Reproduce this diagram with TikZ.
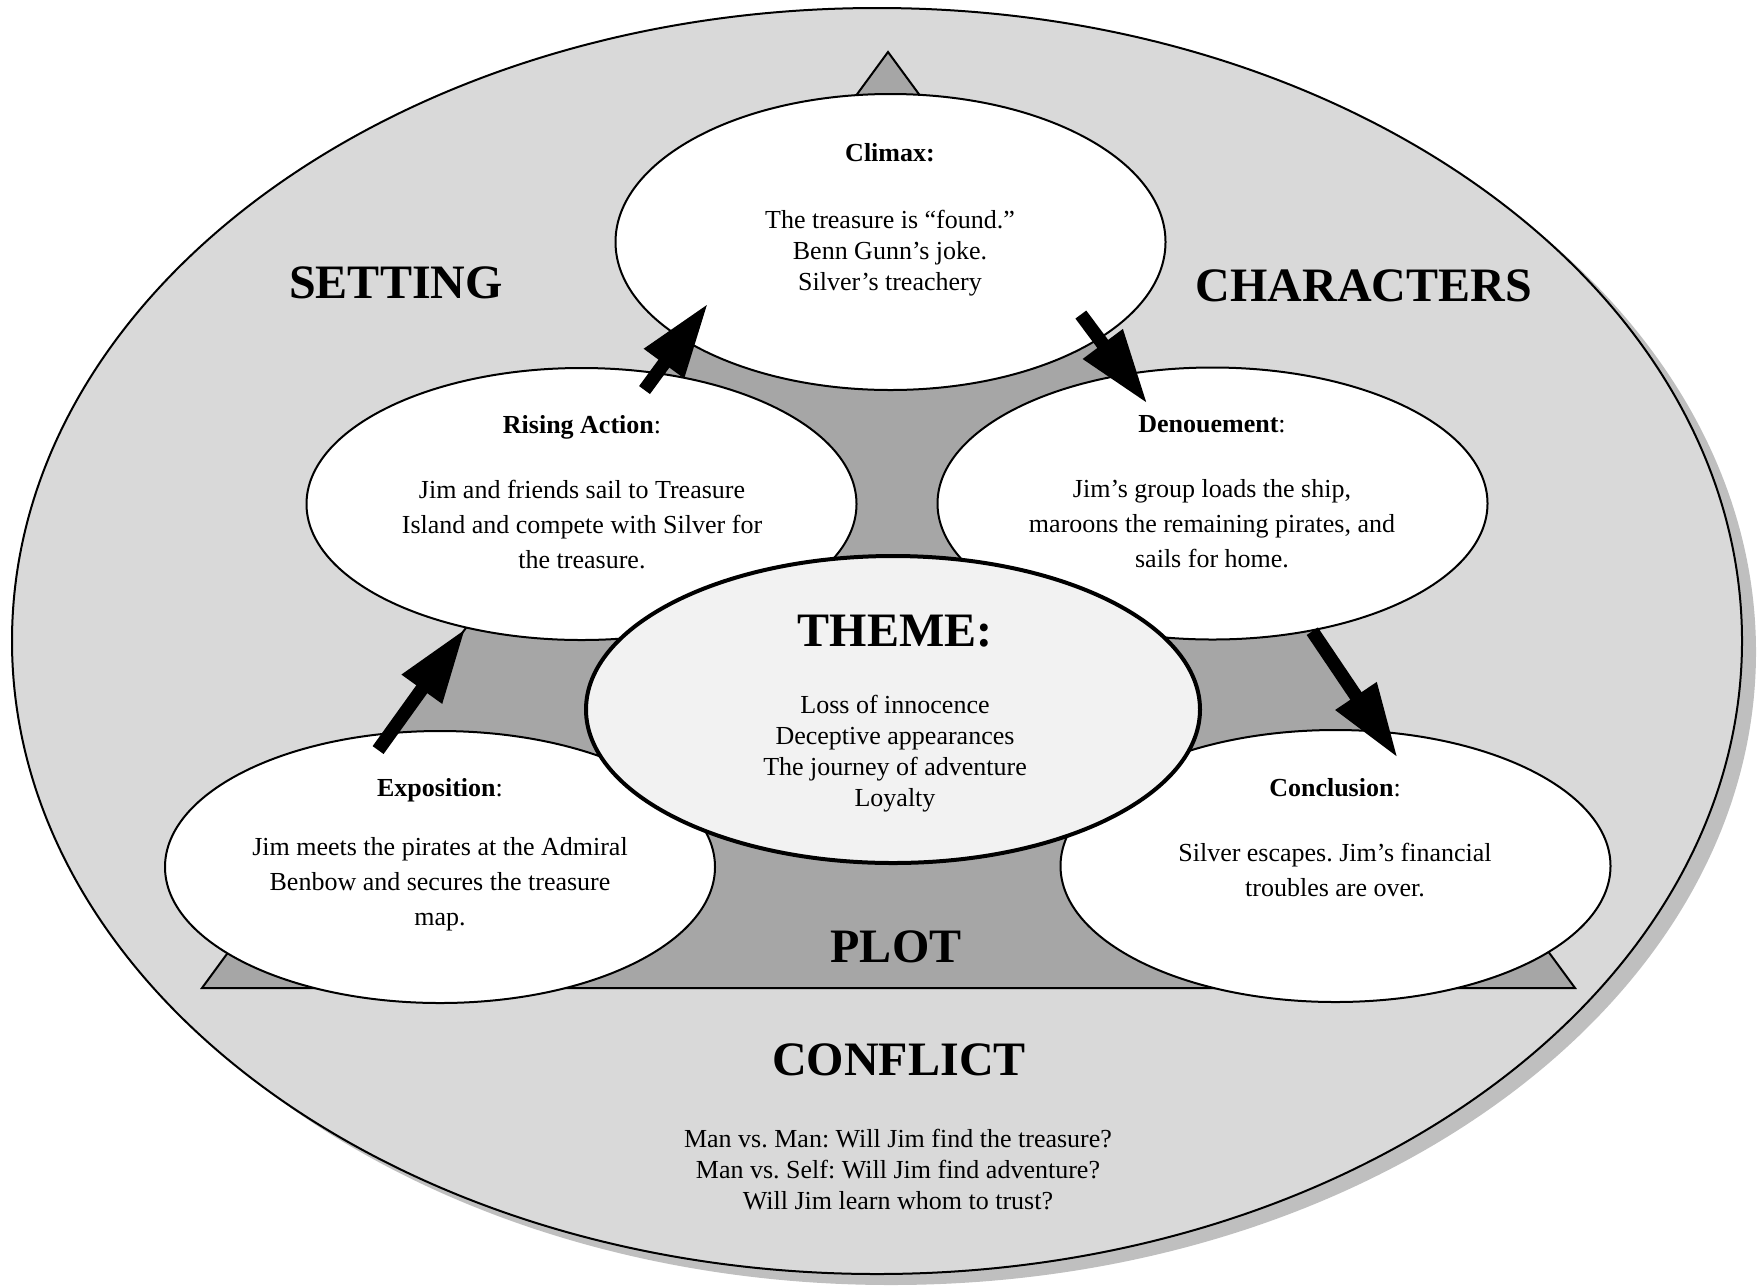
\documentclass[tikz,border=0pt]{standalone}
\usepackage{fontspec}
\setmainfont{Liberation Serif}
\usetikzlibrary{shapes.geometric,arrows.meta,positioning}
\definecolor{ringgray}{RGB}{217,217,217}
\definecolor{plotgray}{RGB}{166,166,166}
\definecolor{shadegray}{RGB}{191,191,191}
\definecolor{themegray}{RGB}{242,242,242}
\frenchspacing

\begin{document}
\begin{tikzpicture}[x=1pt,y=-1pt,
        stage node/.style={ellipse,draw,fill=white,line width=2pt,inner sep=0pt,minimum width=550pt,minimum height=272pt},
        stage text/.style={align=center,font=\fontsize{26}{35}\selectfont},
        plain text/.style={align=center,font=\fontsize{26}{31}\selectfont},
        big label/.style={anchor=base,font=\fontsize{48}{56}\selectfont\bfseries},
        plot arrow/.style={line width=13.5pt,-{Triangle[length=75pt,width=46pt]}}]
        \useasboundingbox (0,0) rectangle (1760,1286);
        \fill[shadegray] (891,652) ellipse [x radius=865pt, y radius=633pt];
        \draw[line width=2pt,fill=ringgray] (877,641) ellipse [x radius=865pt, y radius=633pt];
        \draw[line width=2pt,fill=plotgray] (888,52) -- (1575,988) -- (202,988) -- cycle;

        \node[stage node] at (581.5, 504) (rising) {};
        \node[stage node] at (1212.5, 503.5) (denoue) {};
        \node[stage node] at (440, 867) (expo) {};
        \node[stage node] at (1335.5, 866) (concl) {};
        \node[stage node, minimum height=296pt] at (890.5, 242) (climax) {};
        \node[stage node, fill=themegray, line width=4pt, minimum width=614pt, minimum height=307pt] at (893, 709.5) (theme) {};

        \path[plot arrow]
            (expo.110) edge[shorten <=-22pt] (rising.227)
            (rising.60) edge[shorten <=-22pt, shorten >=-45pt] (climax.205)
            (climax.335) edge[shorten <=-31pt, shorten >=-38pt] (denoue.124)
            (denoue.308) edge[shorten >=-33pt] (concl.72)
            ;

        \node[plain text] at (890, 220) (climaxtxt) {\textbf{Climax:}\\[36pt]The treasure is “found.”\\Benn Gunn’s joke.\\Silver’s treachery};
        \node[stage text] at (582, 492) (risingtxt) {\textbf{Rising Action}:\\[30pt]Jim and friends sail to Treasure\\Island and compete with Silver for\\the treasure.};
        \node[stage text] at (1212, 492) (denouetxt) {\textbf{Denouement}:\\[30pt]Jim’s group loads the ship,\\maroons the remaining pirates, and\\sails for home.};
        \node[stage text] at (440, 855) (expotxt) {\textbf{Exposition}:\\[24pt]Jim meets the pirates at the Admiral\\Benbow and secures the treasure\\map.};
        \node[stage text] at (1335, 838) (concltxt) {\textbf{Conclusion}:\\[30pt]Silver escapes. Jim’s financial\\troubles are over.};
        \node[plain text] at (895, 753.5) (themetxt) {Loss of innocence\\Deceptive appearances\\The journey of adventure\\Loyalty};
        \node[plain text] at (898, 1170) (conflicttxt) {Man vs. Man: Will Jim find the treasure?\\Man vs. Self: Will Jim find adventure?\\Will Jim learn whom to trust?};

        \node[big label] at (396, 298) (setting) {SETTING};
        \node[big label] at (1364, 301) (characters) {CHARACTERS};
        \node[big label] at (895, 646) (themelbl) {THEME:};
        \node[big label] at (896, 962) (plot) {PLOT};
        \node[big label] at (899, 1075) (conflict) {CONFLICT};
    \end{tikzpicture}
\end{document}
